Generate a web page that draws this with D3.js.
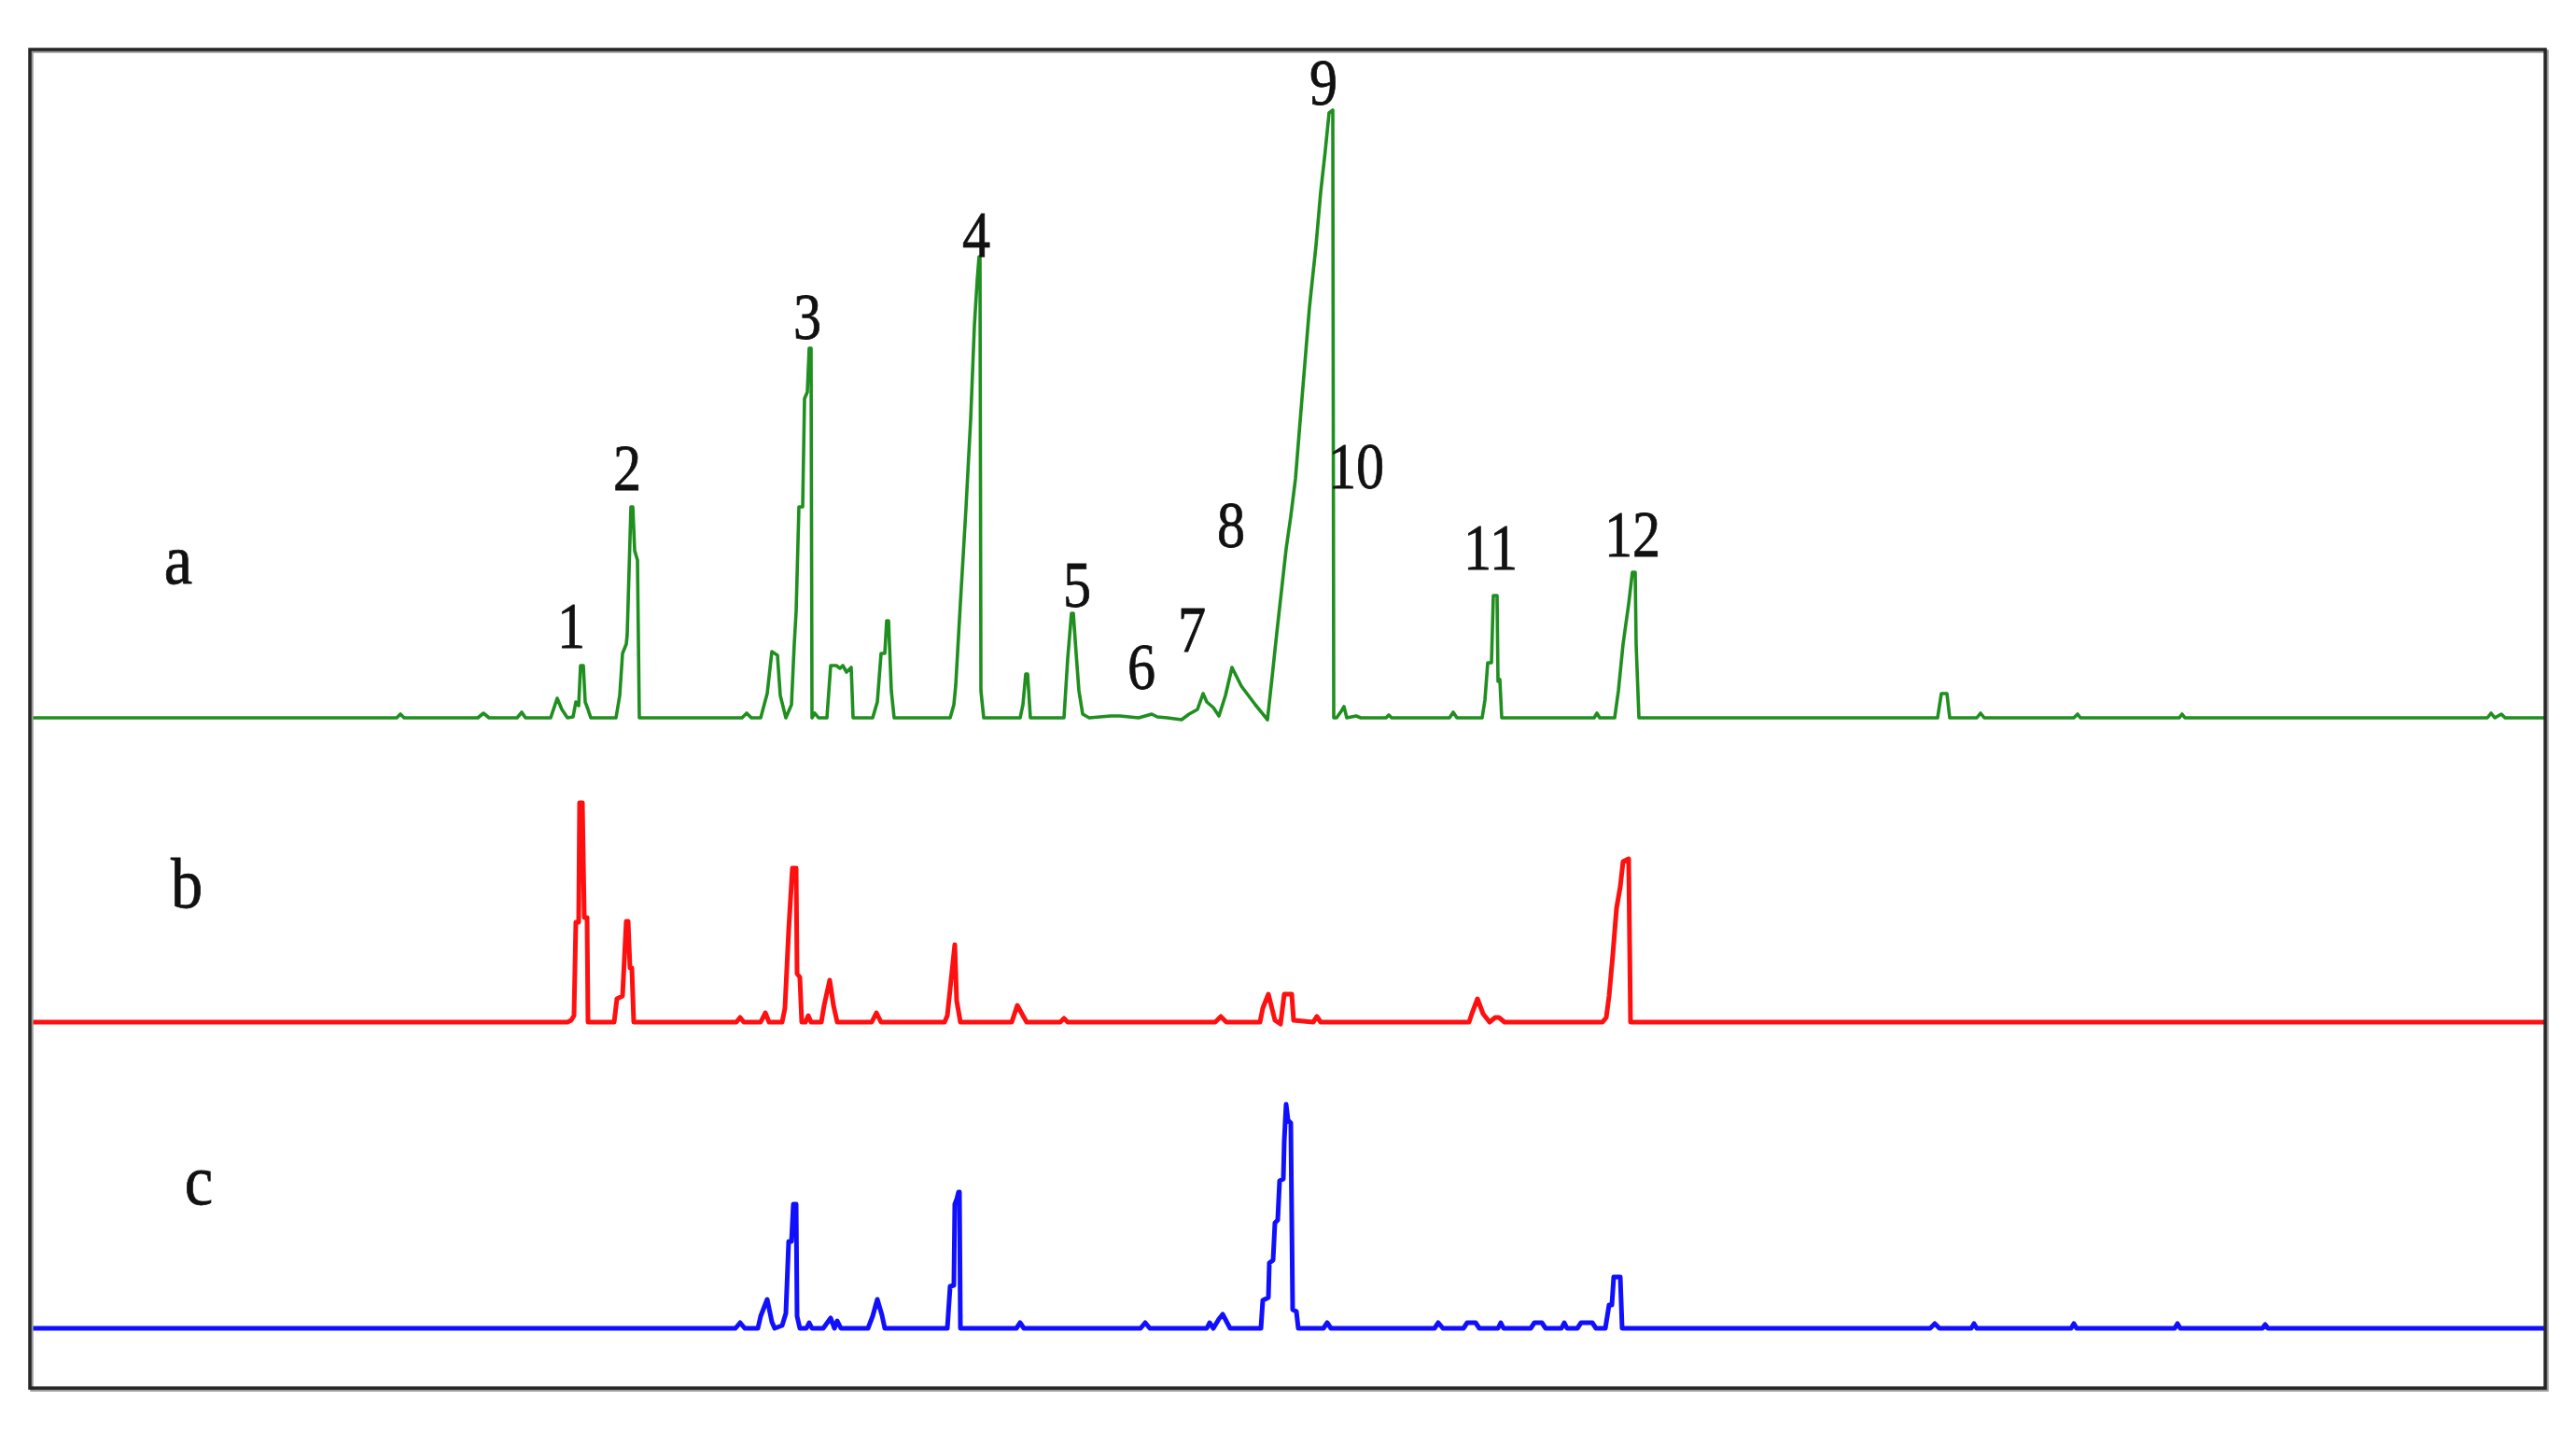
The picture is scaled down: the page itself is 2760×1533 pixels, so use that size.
<!DOCTYPE html>
<html>
<head>
<meta charset="utf-8">
<script src="https://cdn.jsdelivr.net/npm/d3@7"></script>
<style>
  html, body { margin: 0; padding: 0; background: #ffffff; }
  svg { display: block; }
</style>
</head>
<body>
<svg id="chart" width="2760" height="1533"></svg>
<script>
// ---------------- DATA ----------------
// Retention time (min) and detector response (mAU).
const traceNames = ["a", "b", "c"];
const traceColors = ["#1f8f1f", "#ff1010", "#1010ff"];

const traceA = [
  [0,0],[7.86,0],[7.94,2],[8.02,0],[9.60,0],[9.72,2.5],[9.84,0],[10.44,0],[10.54,3],[10.62,0],
  [11.16,0],[11.30,10.5],[11.40,4.5],[11.52,0],[11.64,0.5],[11.70,8.5],[11.76,6.5],[11.80,28],[11.86,28],
  [11.90,8.5],[11.96,4.5],[12.02,0],[12.56,0],[12.64,12],[12.70,34.5],[12.78,39.5],[12.80,44.5],
  [12.88,113],[12.92,113],[12.96,89.5],[13.02,84.5],[13.06,0],[15.26,0],[15.36,2.5],[15.46,0],
  [15.66,0],[15.80,13],[15.90,35.5],[16.02,33.5],[16.08,12],[16.20,0],[16.32,7],[16.38,39.5],
  [16.42,57],[16.48,113],[16.56,113],[16.60,171],[16.66,174.5],[16.70,198],[16.74,198],[16.76,0],
  [16.82,2.5],[16.90,0],[17.08,0],[17.16,28],[17.28,28],[17.36,26.5],[17.42,28],[17.50,24.5],
  [17.60,27],[17.64,0],[18.06,0],[18.16,8.5],[18.24,34.5],[18.32,34.5],[18.36,52],[18.40,52],
  [18.46,14.5],[18.52,0],[19.72,0],[19.80,7],[19.84,17.5],[19.94,61.5],[20.06,112.5],[20.16,160],
  [20.24,210],[20.30,234.5],[20.34,247],[20.36,247],[20.38,14.5],[20.44,0],[21.22,0],[21.28,7],
  [21.34,23.5],[21.38,23.5],[21.44,0],[22.16,0],[22.24,32],[22.32,56],[22.36,56],[22.42,34.5],
  [22.48,14.5],[22.56,2],[22.70,0],[23.16,1],[23.36,1],[23.76,0],[24.04,2],[24.16,0.5],[24.38,0],
  [24.68,-1],[24.84,2],[25.02,4.5],[25.14,13],[25.22,8.5],[25.36,5.5],[25.48,1],[25.62,12],
  [25.76,27],[25.96,17],[26.26,7],[26.52,-1],[26.62,22],[26.72,45.5],[26.82,68],[26.92,90.5],
  [27.02,108],[27.12,128],[27.22,159],[27.32,189.5],[27.42,220],[27.56,253],[27.66,281.5],
  [27.76,304],[27.84,324],[27.92,325.5],[27.94,0],[28.00,0],[28.10,3.5],[28.16,6],[28.22,0],
  [28.42,1],[28.52,0],[29.06,0],[29.12,1.5],[29.18,0],[30.42,0],[30.50,3],[30.58,0],[31.12,0],
  [31.18,9.5],[31.24,29.5],[31.32,29.5],[31.36,65.5],[31.44,65.5],[31.46,19.5],[31.50,20.5],
  [31.54,0],[31.74,0],[33.52,0],[33.58,2.5],[33.64,0],[33.96,0],[34.04,14.5],[34.14,39.5],
  [34.26,61],[34.34,78],[34.40,78],[34.42,39.5],[34.48,0],[40.88,0],[40.96,13],[41.08,13],
  [41.14,0],[41.72,0],[41.80,2.5],[41.88,0],[43.80,0],[43.88,2],[43.94,0],[46.06,0],[46.12,2],
  [46.18,0],[52.66,0],[52.74,2.5],[52.82,0],[52.96,2],[53.04,0],[53.90,0]
];

const traceB = [
  [0,0],[11.52,0],[11.60,1],[11.66,3.5],[11.70,53.5],[11.76,53.5],[11.78,117.5],[11.84,117.5],
  [11.88,56],[11.94,56],[11.96,0],[12.52,0],[12.58,12.5],[12.70,14],[12.78,54],[12.82,54],
  [12.86,29],[12.90,29],[12.94,0],[15.14,0],[15.22,2.5],[15.30,0],[15.66,0],[15.76,5],[15.84,0],
  [16.12,0],[16.18,7.5],[16.26,49],[16.34,82.5],[16.42,82.5],[16.44,26],[16.50,24],[16.54,0],
  [16.62,0],[16.68,3.5],[16.74,0],[16.96,0],[17.02,9],[17.14,22.5],[17.22,9],[17.30,0],
  [18.04,0],[18.14,5],[18.24,0],[19.60,0],[19.66,3.5],[19.74,22.5],[19.82,41.5],[19.86,11.5],
  [19.94,0],[21.04,0],[21.16,9],[21.28,3.5],[21.36,0],[22.08,0],[22.16,2],[22.24,0],[25.40,0],
  [25.52,3],[25.64,0],[26.36,0],[26.42,7.5],[26.54,15],[26.68,1],[26.80,-1],[26.88,15],[27.04,15],
  [27.08,1],[27.50,0],[27.58,3],[27.66,0],[30.84,0],[30.90,4.5],[31.02,12.5],[31.14,4.5],
  [31.28,0],[31.40,2.5],[31.48,2.5],[31.60,0],[33.70,0],[33.78,2.5],[33.84,14],[33.92,36],
  [34.00,61],[34.08,72.5],[34.14,86],[34.26,87.5],[34.30,0],[53.90,0]
];

const traceC = [
  [0,0],[15.12,0],[15.22,3],[15.32,0],[15.60,0],[15.66,6.5],[15.80,15.5],[15.90,3.5],[15.96,0],
  [16.12,1.5],[16.20,8],[16.26,46.5],[16.32,46.5],[16.36,66.5],[16.42,66.5],[16.44,6.5],[16.50,0],
  [16.64,0],[16.70,3],[16.76,0],[17.00,0],[17.16,5.5],[17.24,0],[17.30,4],[17.38,0],[17.96,0],
  [18.06,6.5],[18.16,15.5],[18.26,7],[18.32,0],[19.66,0],[19.72,22.5],[19.80,23],[19.82,66.5],
  [19.86,69],[19.90,73],[19.92,73],[19.94,0],[21.14,0],[21.22,3],[21.30,0],[23.80,0],[23.90,3],
  [24.00,0],[25.22,0],[25.28,3],[25.36,0],[25.48,5],[25.56,7.5],[25.72,0],[26.38,0],[26.42,15],
  [26.54,16.5],[26.56,35],[26.64,36.5],[26.68,56.5],[26.74,58],[26.78,79],[26.86,80],[26.88,100.5],
  [26.92,120],[26.96,111.5],[27.02,110],[27.06,10],[27.14,9],[27.18,0],[27.72,0],[27.80,3],
  [27.88,0],[30.10,0],[30.18,3],[30.28,0],[30.72,0],[30.80,3],[30.98,3],[31.06,0],[31.46,0],
  [31.52,3],[31.58,0],[32.16,0],[32.24,3],[32.40,3],[32.48,0],[32.82,0],[32.88,3],[32.94,0],
  [33.16,0],[33.24,3],[33.48,3],[33.56,0],[33.76,0],[33.84,12.5],[33.90,12.5],[33.94,27.5],
  [34.08,27.5],[34.12,0],[40.72,0],[40.82,2.5],[40.92,0],[41.60,0],[41.66,2.5],[41.72,0],
  [43.74,0],[43.80,2.5],[43.86,0],[45.96,0],[46.02,2.5],[46.08,0],[47.84,0],[47.90,2],[47.96,0],
  [53.90,0]
];

// Peak numbers on trace a: label text, retention time and height of the label (data units)
const peakLabels = ["1","2","3","4","5","6","7","8","9","10","11","12"];
const peakLabelTimes = [11.60, 12.80, 16.66, 20.28, 22.44, 23.82, 24.90, 25.74, 27.72, 28.42, 31.30, 34.34];
const peakLabelHeights = [37.5, 122, 203, 247, 59.5, 15.5, 35.5, 91.5, 328.5, 123, 79.5, 86.5];

// Trace letters: time and height (on each trace's own scale)
const traceLabelTimes = [3.18, 3.36, 3.62];
const traceLabelHeights = [72, 61.5, 66.5];

const timeDomain = [0, 53.9];
const signalDomain = [0, 330];

// ---------------- LAYOUT ----------------
const frame = { left: 32, top: 53, right: 2727, bottom: 1487 };
const baselines = [769, 1095, 1423];
const signalSpan = 660;          // px for the full signal domain
const lineWidths = [3.6, 5, 5];

const svg = d3.select("#chart");

svg.append("rect")
  .attr("x", 0).attr("y", 0).attr("width", 2760).attr("height", 1533)
  .attr("fill", "#ffffff");

const x = d3.scaleLinear().domain(timeDomain).range([frame.left, frame.right]);
const yScales = baselines.map(b =>
  d3.scaleLinear().domain(signalDomain).range([b, b - signalSpan]));

const traces = [traceA, traceB, traceC];

traces.forEach((data, i) => {
  const y = yScales[i];
  const line = d3.line()
    .x(d => x(d[0]))
    .y(d => y(d[1]))
    .curve(d3.curveLinear);
  svg.append("path")
    .datum(data)
    .attr("fill", "none")
    .attr("stroke", traceColors[i])
    .attr("stroke-width", lineWidths[i])
    .attr("stroke-linejoin", "round")
    .attr("stroke-linecap", "butt")
    .attr("d", line);
});

// Frame (with slight shadow like the original)
svg.append("rect")
  .attr("x", frame.left + 2).attr("y", frame.top + 2)
  .attr("width", frame.right - frame.left).attr("height", frame.bottom - frame.top)
  .attr("fill", "none").attr("stroke", "#9a9a9a").attr("stroke-width", 3.5);
svg.append("rect")
  .attr("x", frame.left).attr("y", frame.top)
  .attr("width", frame.right - frame.left).attr("height", frame.bottom - frame.top)
  .attr("fill", "none").attr("stroke", "#262626").attr("stroke-width", 3.5);

const fontFamily = "'Liberation Serif', 'Times New Roman', 'DejaVu Serif', serif";

// Peak number labels
svg.append("g").selectAll("text")
  .data(peakLabels)
  .join("text")
  .attr("transform", (d, i) =>
    `translate(${x(peakLabelTimes[i])},${yScales[0](peakLabelHeights[i])}) scale(0.86,1)`)
  .attr("text-anchor", "middle")
  .attr("font-family", fontFamily)
  .attr("font-size", 70)
  .attr("fill", "#111111")
  .attr("stroke", "#111111")
  .attr("stroke-width", 0.8)
  .text(d => d);

// Trace letters a, b, c
svg.append("g").selectAll("text")
  .data(traceNames)
  .join("text")
  .attr("transform", (d, i) =>
    `translate(${x(traceLabelTimes[i])},${yScales[i](traceLabelHeights[i])}) scale(0.9,1)`)
  .attr("text-anchor", "middle")
  .attr("font-family", fontFamily)
  .attr("font-size", 76)
  .attr("fill", "#111111")
  .attr("stroke", "#111111")
  .attr("stroke-width", 0.8)
  .text(d => d);
</script>
</body>
</html>
